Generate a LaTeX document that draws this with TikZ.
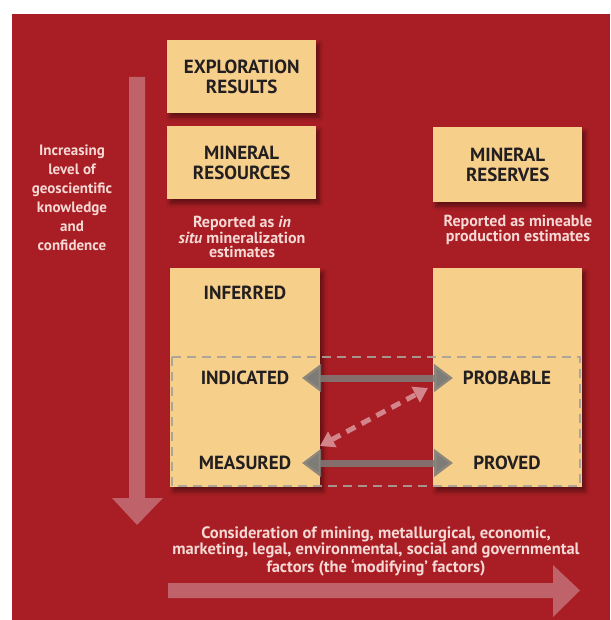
\documentclass[tikz,border=0pt]{standalone}
\usepackage{fontspec}
\setmainfont{PT Sans}
\usetikzlibrary{arrows.meta,shadows.blur}
\definecolor{bgred}{HTML}{A81E24}
\definecolor{boxtan}{HTML}{F6CF8B}
\definecolor{textdark}{HTML}{231F20}
\definecolor{paletext}{HTML}{F6D8D4}
\definecolor{bigarrow}{HTML}{C0626A}
\definecolor{greyarrow}{HTML}{7E7C78}
\definecolor{pinkarrow}{HTML}{D3858B}
\definecolor{dashgrey}{HTML}{A8A198}
\begin{document}
\begin{tikzpicture}[x=1pt,y=-1pt,
  box/.style={fill=boxtan, draw=none, inner sep=0pt, anchor=north west,
    blur shadow={shadow xshift=3pt, shadow yshift=-4pt, shadow blur steps=6, shadow opacity=45, shadow blur radius=4pt}},
  boxtitle/.style={font=\fontsize{19}{20}\selectfont\bfseries, text=textdark, align=center},
  catlabel/.style={font=\fontsize{19}{20}\selectfont\bfseries, text=textdark, inner sep=0pt},
  paletxt/.style={text=paletext, align=center, inner sep=0pt},
  greyconn/.style={draw=greyarrow, draw opacity=0.85, line width=7pt,
    {Triangle[width=27pt,length=19pt]}-{Triangle[width=27pt,length=19pt]}},
  pinkconn/.style={draw=pinkarrow, line width=5pt, dash pattern=on 10pt off 7pt,
    {Triangle[width=17pt,length=14pt]}-{Triangle[width=17pt,length=14pt]}},
  dashframe/.style={draw=dashgrey, draw opacity=0.9, line width=2.5pt, dash pattern=on 9pt off 6pt}
]
\useasboundingbox (0,0) rectangle (610,620);
% background
\fill[white] (0,0) rectangle (610,620);
\fill[bgred] (12,14) rectangle (610,620);
% big arrows
\fill[bigarrow] (129,77) -- (145,77) -- (145,498) -- (163,498) -- (137,525) -- (112,498) -- (129,498) -- cycle;
\fill[bigarrow] (168,583) -- (553,583) -- (553,565) -- (580,590.5) -- (553,617) -- (553,598) -- (168,598) -- cycle;
% top boxes
\node[box, minimum width=149pt, minimum height=73pt] (expl) at (167,40) {};
\node[boxtitle] at (expl.center) {EXPLORATION\\RESULTS};
\node[box, minimum width=149pt, minimum height=73pt] (res) at (167,126) {};
\node[boxtitle] at (res.center) {MINERAL\\RESOURCES};
\node[box, minimum width=149pt, minimum height=75pt] (rsv) at (433,127) {};
\node[boxtitle] at (rsv.center) {MINERAL\\RESERVES};
% lower boxes
\node[box, minimum width=150pt, minimum height=219pt] (lbox) at (170,268) {};
\node[box, minimum width=149pt, minimum height=219pt] (rbox) at (433,268) {};
% dashed frame
\coordinate (fa) at (172,357);
\coordinate (fb) at (580,486);
\draw[dashframe] (fa) rectangle (fb);
% texts
\node[paletxt, font=\fontsize{15}{19}\selectfont\bfseries] (lefttxt) at (72,198) {Increasing\\level of\\geoscientific\\knowledge\\and\\confidence};
\node[paletxt, font=\fontsize{16}{14.5}\selectfont\bfseries] (insitu) at (242,237) {Reported as \emph{in}\\\emph{situ} mineralization\\estimates};
\node[paletxt, font=\fontsize{16}{14.5}\selectfont\bfseries] (mineable) at (518,230) {Reported as mineable\\production estimates};
\node[paletxt, font=\fontsize{16.5}{14}\selectfont\bfseries] (modif) at (376,551) {Consideration of mining, metallurgical, economic,\\marketing, legal, environmental, social and governmental\\factors (the `modifying' factors)};
% category labels
\node[catlabel] (inf) at (245,293) {INFERRED};
\node[catlabel] (ind) at (245,378) {INDICATED};
\node[catlabel] (mea) at (245,463) {MEASURED};
\node[catlabel] (prb) at (507,378) {PROBABLE};
\node[catlabel] (prv) at (507,463) {PROVED};
% connectors
\coordinate (indR) at (302,378);
\coordinate (prbL) at (453,378);
\coordinate (meaR) at (302,463);
\coordinate (prvL) at (453,463);
\coordinate (meaD) at (320,446);
\coordinate (prbD) at (428,388);
\draw[greyconn] (indR) -- (prbL);
\draw[greyconn] (meaR) -- (prvL);
\draw[pinkconn] (meaD) -- (prbD);
\end{tikzpicture}
\end{document}
